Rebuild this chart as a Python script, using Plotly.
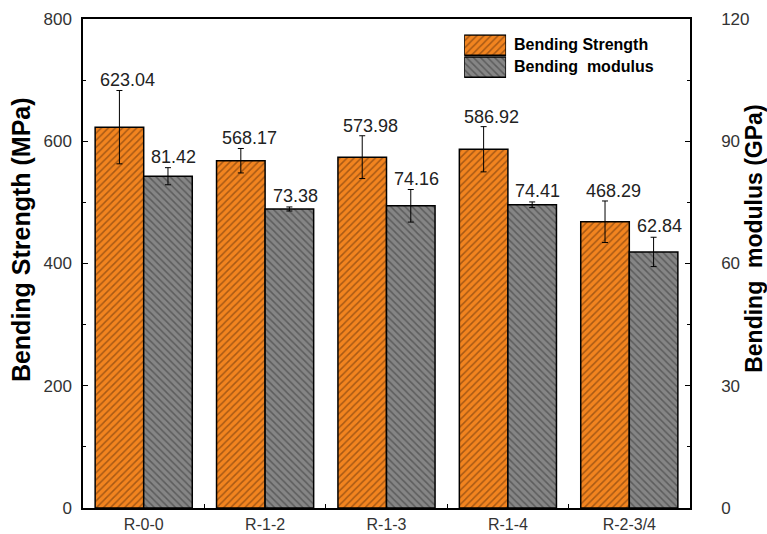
import plotly.graph_objects as go

# Sample groups and measured properties
categories = ["R-0-0", "R-1-2", "R-1-3", "R-1-4", "R-2-3/4"]
strength = [623.04, 568.17, 573.98, 586.92, 468.29]        # MPa
strength_err = [60, 20, 35, 37, 34]
modulus = [81.42, 73.38, 74.16, 74.41, 62.84]              # GPa
modulus_err = [2.1, 0.5, 4.0, 0.7, 3.6]

strength_ticks = [0, 200, 400, 600, 800]
modulus_ticks = [0, 30, 60, 90, 120]

ORANGE = "#F2841F"
ORANGE_HATCH = "#5C2E0A"
GRAY = "#858585"
GRAY_HATCH = "#333333"
FONT = "Liberation Sans, Arial, sans-serif"

fig = go.Figure()

fig.add_trace(go.Bar(
    x=categories, y=strength, name="Bending Strength",
    offsetgroup="s", yaxis="y", showlegend=False,
    marker=dict(color=ORANGE, line=dict(color="black", width=1.5),
                pattern=dict(shape="/", fgcolor=ORANGE_HATCH, size=5, solidity=0.3)),
    error_y=dict(type="data", array=strength_err, color="black", thickness=1, width=3),
))
fig.add_trace(go.Bar(
    x=categories, y=modulus, name="Bending  modulus",
    offsetgroup="m", yaxis="y2", showlegend=False,
    marker=dict(color=GRAY, line=dict(color="black", width=1.5),
                pattern=dict(shape="\\", fgcolor=GRAY_HATCH, size=5, solidity=0.3)),
    error_y=dict(type="data", array=modulus_err, color="black", thickness=1, width=3),
))

# Legend swatches drawn as hatched bars on a small inset axis
fig.add_trace(go.Bar(
    x=[1], y=[1], base=[0], orientation="h", xaxis="x3", yaxis="y3",
    offset=-0.46, width=0.92, showlegend=False, hoverinfo="skip",
    marker=dict(color=ORANGE, line=dict(color="black", width=1.5),
                pattern=dict(shape="/", fgcolor=ORANGE_HATCH, size=5, solidity=0.3)),
))
fig.add_trace(go.Bar(
    x=[1], y=[0], base=[0], orientation="h", xaxis="x3", yaxis="y3",
    offset=-0.46, width=0.92, showlegend=False, hoverinfo="skip",
    marker=dict(color=GRAY, line=dict(color="black", width=1.5),
                pattern=dict(shape="\\", fgcolor=GRAY_HATCH, size=5, solidity=0.3)),
))

annotations = []
# Value labels above the error bars
for i, (v, e) in enumerate(zip(strength, strength_err)):
    annotations.append(dict(x=i, y=v + e, xref="x", yref="y", text=f"{v:.2f}",
                            showarrow=False, xanchor="center", yanchor="bottom",
                            xshift=-16, yshift=-2,
                            font=dict(size=18, color="#222222", family=FONT)))
for i, (v, e) in enumerate(zip(modulus, modulus_err)):
    annotations.append(dict(x=i, y=v + e, xref="x", yref="y2", text=f"{v:.2f}",
                            showarrow=False, xanchor="center", yanchor="bottom",
                            xshift=30, yshift=-1,
                            font=dict(size=18, color="#222222", family=FONT)))

# Axis titles
annotations.append(dict(x=-0.102, y=0.548, xref="paper", yref="paper",
                        text="<b>Bending Strength (MPa)</b>", textangle=-90,
                        xanchor="center", yanchor="middle", showarrow=False,
                        font=dict(size=25, color="black", family=FONT)))
annotations.append(dict(x=1.105, y=0.55, xref="paper", yref="paper",
                        text="<b>Bending  modulus (GPa)</b>", textangle=-90,
                        xanchor="center", yanchor="middle", showarrow=False,
                        font=dict(size=23, color="black", family=FONT)))

# Legend texts
annotations.append(dict(x=0.707, y=0.947, xref="paper", yref="paper",
                        text="<b>Bending Strength</b>", xanchor="left", yanchor="middle",
                        showarrow=False, font=dict(size=16, color="black", family=FONT)))
annotations.append(dict(x=0.707, y=0.902, xref="paper", yref="paper",
                        text="<b>Bending  modulus</b>", xanchor="left", yanchor="middle",
                        showarrow=False, font=dict(size=16, color="black", family=FONT)))

tick_font = dict(size=17, color="#333333", family=FONT)

fig.update_layout(
    width=767, height=534,
    margin=dict(l=83, r=77, t=19, b=26),
    paper_bgcolor="white", plot_bgcolor="white",
    barmode="group", bargap=0.2, bargroupgap=0,
    font=dict(family=FONT),
    annotations=annotations,
    xaxis=dict(
        type="category", range=[-0.5, 4.5], automargin=False,
        showline=True, linecolor="black", linewidth=1.5, mirror=True,
        ticks="inside", ticklen=4, tickcolor="black", tickson="boundaries",
        tickfont=dict(size=16, color="#333333", family=FONT), ticklabelstandoff=1,
        showgrid=False, zeroline=False,
    ),
    yaxis=dict(
        range=[0, 800], tickvals=strength_ticks, automargin=False,
        showline=True, linecolor="black", linewidth=1.5,
        ticks="inside", ticklen=5, tickcolor="black", tickwidth=1.2,
        minor=dict(dtick=100, ticks="inside", ticklen=3, tickcolor="black"),
        tickfont=tick_font, ticklabelstandoff=6, showgrid=False, zeroline=False,
    ),
    yaxis2=dict(
        range=[0, 120], tickvals=modulus_ticks, overlaying="y", side="right",
        automargin=False,
        showline=True, linecolor="black", linewidth=1.5,
        ticks="inside", ticklen=5, tickcolor="black", tickwidth=1.2,
        minor=dict(dtick=15, ticks="inside", ticklen=3, tickcolor="black"),
        tickfont=tick_font, ticklabelstandoff=26, showgrid=False, zeroline=False,
    ),
    xaxis3=dict(domain=[0.628, 0.697], range=[0, 1], anchor="y3", visible=False, fixedrange=True),
    yaxis3=dict(domain=[0.879, 0.969], range=[-0.5, 1.5], anchor="x3", visible=False, fixedrange=True),
)

fig.write_html("out.html")
